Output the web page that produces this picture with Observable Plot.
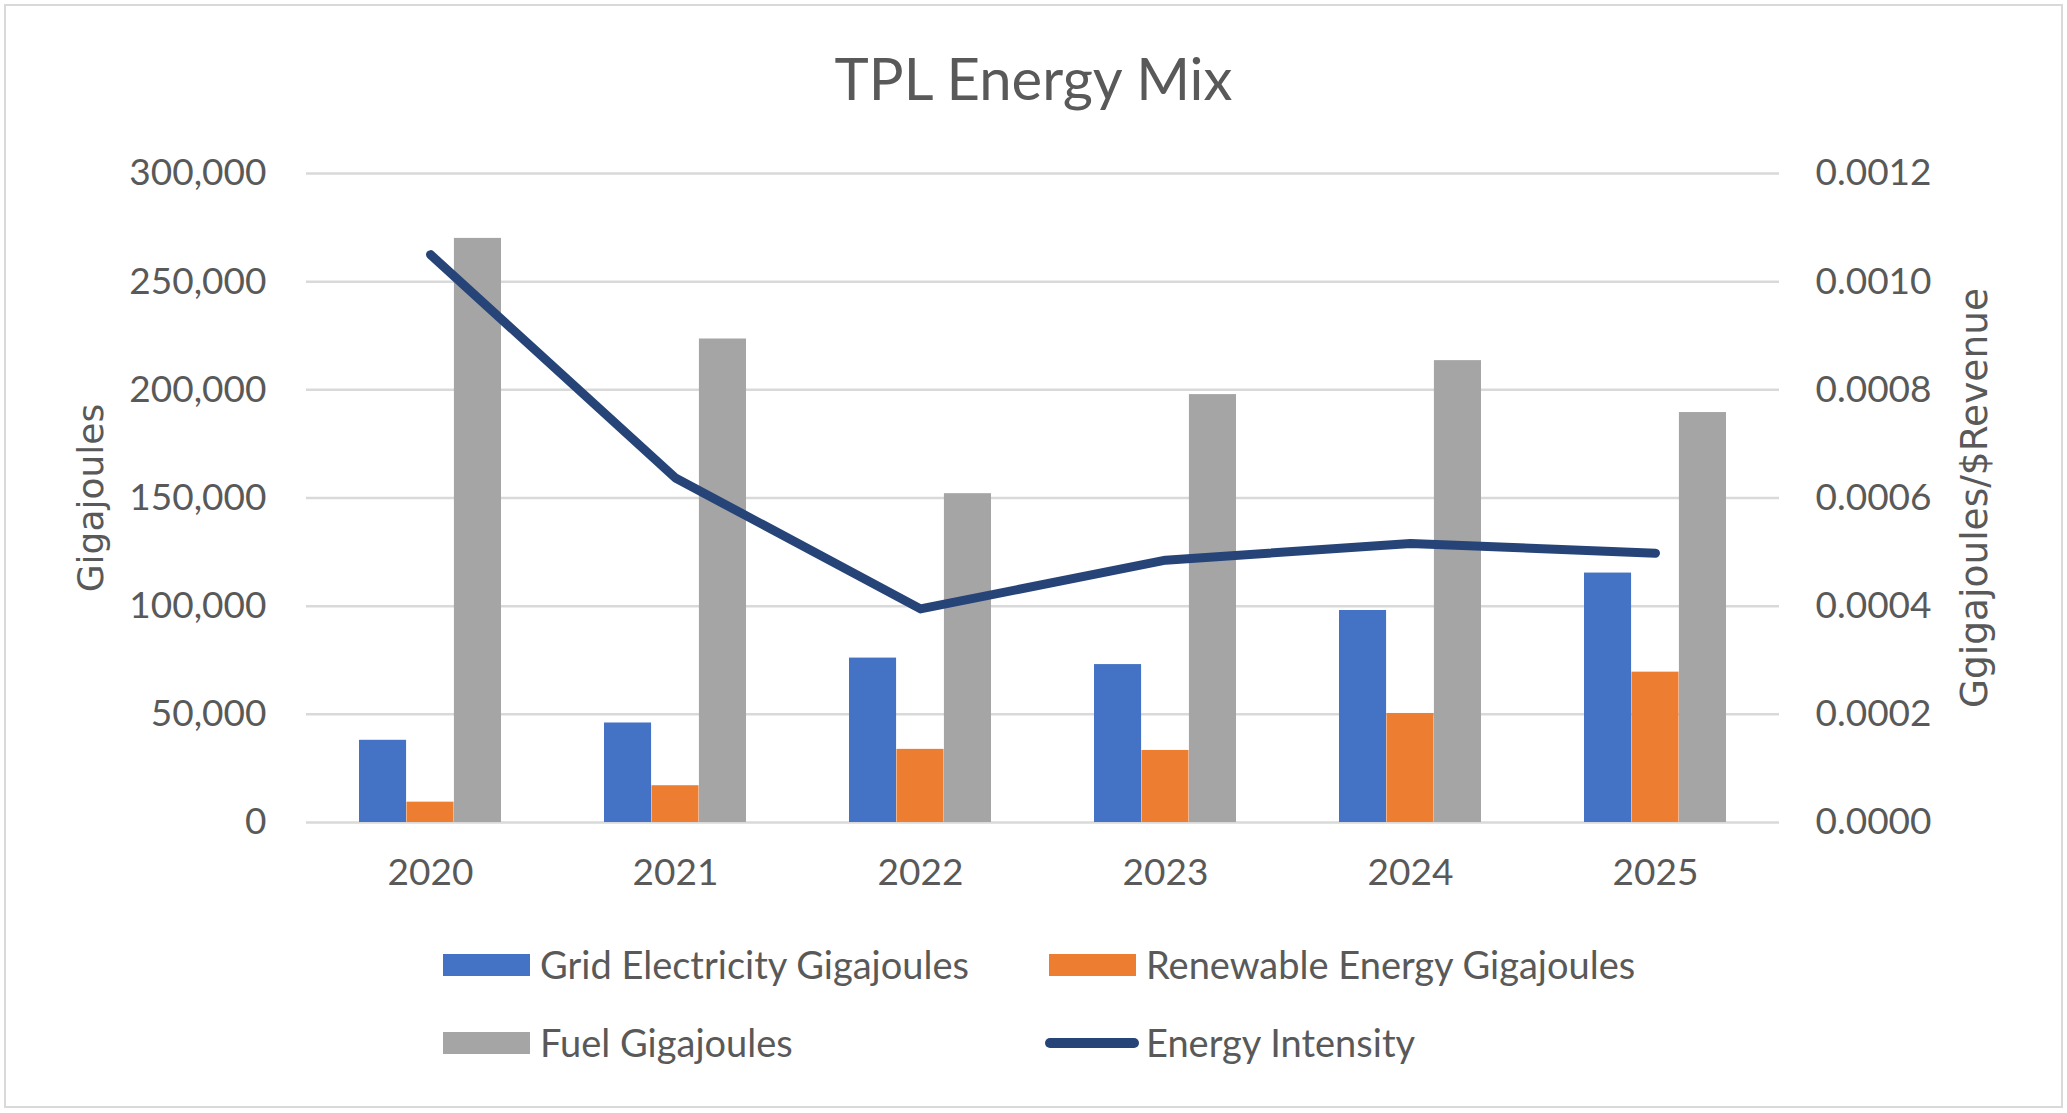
<!DOCTYPE html>
<html>
<head>
<meta charset="utf-8">
<script src="https://cdn.jsdelivr.net/npm/d3@7"></script>
<script src="https://cdn.jsdelivr.net/npm/@observablehq/plot@0.6"></script>
<style>
  html, body { margin: 0; padding: 0; background: #fff; }
  #wrap { position: relative; width: 2067px; height: 1113px; font-family: Lato, "Open Sans", sans-serif; color: #595959; }
  #frame { position: absolute; left: 4px; top: 4px; width: 2055px; height: 1100px; border: 2px solid #d9d9d9; box-sizing: content-box; }
  #title { position: absolute; left: 0; width: 2067px; top: 44px; text-align: center; font-size: 58px; line-height: 68px; }
  #chart { position: absolute; left: 0; top: 120px; }
  .ytitle { position: absolute; font-family: "DejaVu Sans", sans-serif; white-space: nowrap; transform: translate(-50%, -50%) rotate(-90deg); }
  .leg { position: absolute; font-size: 38px; white-space: nowrap; line-height: 44px; }
  .sw { position: absolute; }
</style>
</head>
<body>
<div id="wrap">
  <div id="frame"></div>
  <div id="title">TPL Energy Mix</div>
  <div id="chart"></div>
  <div class="ytitle" id="ylab" style="left:90px; top:498px; font-size:36px;">Gigajoules</div>
  <div class="ytitle" id="y2lab" style="left:1974px; top:498px; font-size:37.5px;">Ggigajoules/$Revenue</div>
  <div id="legend"></div>
</div>
<script>
// ---- data ----
const years = ["2020", "2021", "2022", "2023", "2024", "2025"];
const gridElectricity = [38000, 46000, 76000, 73000, 98000, 115300];
const renewableEnergy = [9400, 17000, 33800, 33300, 50400, 69500];
const fuel = [270000, 223500, 152000, 197800, 213500, 189500];
const energyIntensity = [0.00105, 0.000637, 0.000395, 0.000485, 0.000516, 0.000498];
const leftTicks = [0, 50000, 100000, 150000, 200000, 250000, 300000];
const rightTicks = [0, 0.0002, 0.0004, 0.0006, 0.0008, 0.0010, 0.0012];
const seriesNames = ["Grid Electricity Gigajoules", "Renewable Energy Gigajoules", "Fuel Gigajoules", "Energy Intensity"];
const colors = ["#4472C4", "#ED7D31", "#A5A5A5", "#264478"];

// ---- layout ----
const W = 2067, H = 800;
const mL = 306, mR = 288, mT = 53, mB = 98;
const padIn = 0.42, padOut = 0.21;
const step = (W - mL - mR) / (years.length - padIn + 2 * padOut);
const bw = step * (1 - padIn);
const third = bw / 3;
const ratio = leftTicks[leftTicks.length - 1] / rightTicks[rightTicks.length - 1];

const rows = years.map((y, i) => ({
  year: y, grid: gridElectricity[i], renew: renewableEnergy[i], fuel: fuel[i], intensity: energyIntensity[i]
}));

const chart = Plot.plot({
  width: W, height: H,
  marginLeft: mL, marginRight: mR, marginTop: mT, marginBottom: mB,
  style: { fontFamily: "Lato, sans-serif", fontSize: "37px", color: "#595959", background: "transparent", overflow: "visible" },
  x: { type: "band", domain: years, paddingInner: padIn, paddingOuter: padOut, align: 0.5 },
  y: { domain: [0, leftTicks[leftTicks.length - 1]] },
  marks: [
    Plot.gridY(leftTicks, { stroke: "#d9d9d9", strokeOpacity: 1, strokeWidth: 2.5 }),
    Plot.barY(rows, { x: "year", y: "grid", fill: colors[0], insetLeft: 0, insetRight: 2 * third }),
    Plot.barY(rows, { x: "year", y: "renew", fill: colors[1], insetLeft: third, insetRight: third }),
    Plot.barY(rows, { x: "year", y: "fuel", fill: colors[2], insetLeft: 2 * third, insetRight: 0 }),
    Plot.line(rows, { x: "year", y: d => d.intensity * ratio, stroke: colors[3], strokeWidth: 9, strokeLinecap: "round", strokeLinejoin: "round" }),
    Plot.axisY(leftTicks, { anchor: "left", tickSize: 0, tickPadding: 40, tickFormat: d => d3.format(",")(d), label: null }),
    Plot.axisY(rightTicks.map(t => t * ratio), { anchor: "right", tickSize: 0, tickPadding: 36, tickFormat: d => (d / ratio).toFixed(4), label: null }),
    Plot.axisX({ tickSize: 0, tickPadding: 36, label: null })
  ]
});
document.getElementById("chart").appendChild(chart);

// ---- legend ----
const legend = document.getElementById("legend");
const legItems = [
  { name: seriesNames[0], color: colors[0], kind: "box", x: 443, y: 965 },
  { name: seriesNames[1], color: colors[1], kind: "box", x: 1049, y: 965 },
  { name: seriesNames[2], color: colors[2], kind: "box", x: 443, y: 1043 },
  { name: seriesNames[3], color: colors[3], kind: "line", x: 1049, y: 1043 }
];
for (const it of legItems) {
  const sw = document.createElement("div");
  sw.className = "sw";
  if (it.kind === "box") {
    sw.style.cssText = `left:${it.x}px; top:${it.y - 11}px; width:87px; height:22px; background:${it.color};`;
  } else {
    sw.style.cssText = `left:${it.x - 4}px; top:${it.y - 5}px; width:94px; height:10px; border-radius:5px; background:${it.color};`;
  }
  legend.appendChild(sw);
  const t = document.createElement("div");
  t.className = "leg";
  t.textContent = it.name;
  t.style.left = (it.x + 97) + "px";
  t.style.top = (it.y - 23) + "px";
  legend.appendChild(t);
}
</script>
</body>
</html>
